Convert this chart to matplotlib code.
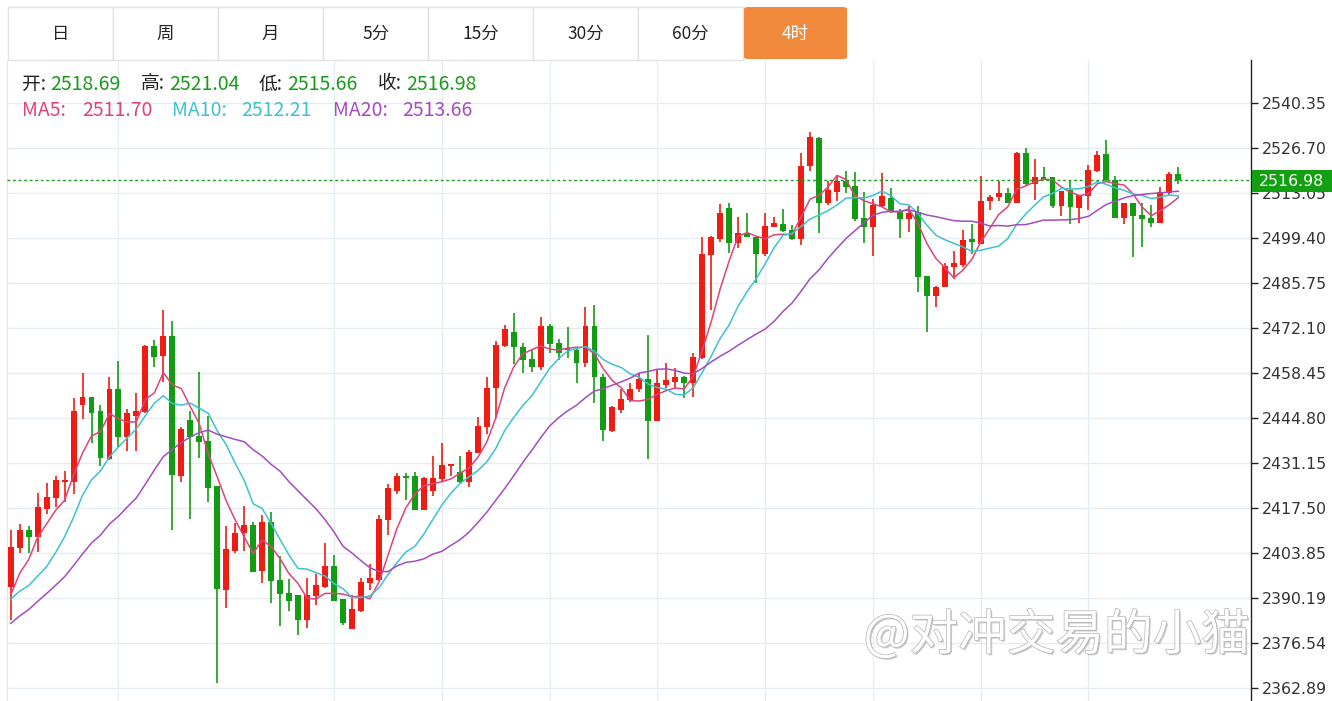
import matplotlib
matplotlib.use("Agg")
import matplotlib.pyplot as plt
import matplotlib.patheffects as pe
from matplotlib.patches import Rectangle, FancyBboxPatch
import numpy as np
import pandas as pd

# ---- data ----
opens = [2393.6, 2405.3, 2410.8, 2408.6, 2417.3, 2420.5, 2425.5, 2425.5, 2448.7, 2451.3,
         2446.9, 2432.3, 2453.5, 2439.1, 2445.4, 2446.7, 2466.6, 2463.6, 2469.7, 2427.2,
         2444.2, 2439.3, 2437.9, 2424.2, 2392.6, 2404.5, 2410.0, 2412.3, 2398.5, 2413.3,
         2395.7, 2391.8, 2391.0, 2383.5, 2390.8, 2393.6, 2399.9, 2389.8, 2380.7, 2386.4,
         2394.8, 2395.7, 2413.9, 2422.7, 2427.3, 2427.3, 2416.9, 2422.7, 2426.2, 2430.2,
         2428.5, 2425.5, 2434.3, 2442.2, 2453.8, 2466.6, 2471.0, 2466.2, 2462.6, 2460.4,
         2472.7, 2467.5, 2465.9, 2465.4, 2461.6, 2472.6, 2457.1, 2441.0, 2447.2, 2450.3,
         2453.5, 2456.5, 2444.0, 2454.8, 2455.8, 2457.1, 2455.3, 2462.9, 2494.2, 2499.0,
         2508.4, 2497.8, 2500.8, 2499.8, 2494.5, 2502.8, 2503.6, 2501.8, 2499.2, 2521.2,
         2529.6, 2510.1, 2513.4, 2516.7, 2515.2, 2505.4, 2502.7, 2509.1, 2511.4, 2507.4,
         2505.1, 2507.4, 2487.9, 2481.8, 2484.4, 2490.5, 2491.2, 2499.0, 2497.6, 2510.7,
         2511.7, 2513.1, 2510.1, 2525.1, 2515.8, 2518.0, 2517.8, 2509.1, 2514.0, 2508.4,
         2512.1, 2519.8, 2524.9, 2517.0, 2505.4, 2510.1, 2506.4, 2505.4, 2504.0, 2513.0,
         2518.69]
highs = [2410.8, 2412.6, 2412.0, 2422.0, 2425.2, 2427.3, 2428.8, 2450.8, 2458.4, 2451.3,
         2448.7, 2457.1, 2462.1, 2447.4, 2452.3, 2466.9, 2468.5, 2477.6, 2474.2, 2442.2,
         2446.9, 2458.8, 2445.4, 2424.2, 2412.0, 2413.0, 2418.2, 2413.3, 2415.4, 2416.4,
         2402.9, 2395.9, 2391.0, 2396.2, 2397.5, 2407.0, 2403.2, 2389.8, 2391.1, 2396.2,
         2400.5, 2415.4, 2424.8, 2428.0, 2428.0, 2428.5, 2426.9, 2433.3, 2437.1, 2430.8,
         2433.3, 2435.1, 2445.0, 2457.3, 2468.3, 2473.0, 2476.7, 2467.6, 2465.4, 2475.3,
         2473.2, 2468.7, 2472.5, 2465.9, 2478.6, 2479.1, 2458.2, 2448.4, 2453.5, 2455.3,
         2458.5, 2470.0, 2459.4, 2461.4, 2459.9, 2457.5, 2464.4, 2499.8, 2500.0, 2509.7,
         2509.9, 2505.7, 2507.1, 2499.8, 2507.1, 2505.7, 2508.1, 2503.3, 2525.1, 2531.6,
         2530.1, 2516.7, 2518.5, 2519.8, 2519.5, 2513.4, 2511.1, 2519.0, 2514.5, 2508.1,
         2509.1, 2509.1, 2487.9, 2484.8, 2491.9, 2495.6, 2501.8, 2503.6, 2518.2, 2512.4,
         2516.8, 2514.5, 2525.6, 2526.6, 2523.3, 2520.8, 2517.8, 2513.8, 2517.0, 2512.4,
         2521.5, 2525.9, 2529.1, 2518.2, 2510.1, 2510.1, 2510.1, 2509.4, 2515.0, 2519.5,
         2521.04]
lows = [2383.5, 2403.8, 2403.9, 2404.2, 2415.7, 2417.9, 2419.4, 2421.7, 2444.4, 2437.1,
        2430.3, 2432.1, 2436.1, 2434.9, 2434.9, 2446.4, 2460.2, 2455.8, 2410.8, 2425.5,
        2414.1, 2432.6, 2419.2, 2364.3, 2387.1, 2403.8, 2404.5, 2398.2, 2394.8, 2388.8,
        2381.7, 2386.4, 2379.0, 2381.0, 2388.1, 2393.1, 2389.4, 2382.0, 2380.7, 2386.0,
        2392.6, 2395.5, 2409.3, 2421.7, 2419.9, 2416.9, 2416.9, 2421.1, 2425.5, 2427.2,
        2425.0, 2424.0, 2434.1, 2439.9, 2444.7, 2466.4, 2461.2, 2458.5, 2458.8, 2459.3,
        2464.4, 2462.4, 2462.9, 2455.5, 2460.4, 2449.4, 2437.9, 2440.6, 2446.4, 2449.7,
        2452.8, 2432.3, 2444.0, 2453.8, 2453.8, 2450.8, 2451.3, 2462.6, 2477.6, 2498.3,
        2494.9, 2496.3, 2499.6, 2485.7, 2493.9, 2502.6, 2501.3, 2498.8, 2497.3, 2519.8,
        2500.8, 2509.4, 2510.7, 2513.1, 2504.6, 2498.0, 2493.9, 2508.9, 2506.9, 2499.3,
        2501.3, 2483.1, 2471.0, 2478.6, 2484.4, 2486.9, 2490.7, 2494.4, 2497.6, 2507.9,
        2510.7, 2509.9, 2509.9, 2515.5, 2510.9, 2517.2, 2508.4, 2506.1, 2503.6, 2504.0,
        2507.9, 2519.5, 2516.5, 2505.4, 2503.6, 2493.7, 2496.6, 2502.8, 2503.9, 2512.4,
        2515.66]
closes = [2405.6, 2410.8, 2408.8, 2417.7, 2420.7, 2426.0, 2426.0, 2447.0, 2451.3, 2446.4,
          2432.7, 2453.5, 2438.9, 2446.2, 2447.0, 2466.6, 2463.4, 2469.7, 2427.5, 2441.4,
          2439.1, 2437.6, 2423.7, 2392.8, 2405.1, 2410.0, 2412.3, 2398.2, 2413.3, 2395.4,
          2391.4, 2389.4, 2383.5, 2391.1, 2394.1, 2399.9, 2389.4, 2382.5, 2386.8, 2395.1,
          2396.2, 2414.1, 2423.5, 2427.3, 2426.7, 2416.9, 2426.7, 2426.6, 2430.5, 2430.8,
          2425.5, 2434.6, 2442.4, 2454.0, 2466.9, 2471.7, 2466.2, 2462.4, 2460.2, 2472.7,
          2467.2, 2464.4, 2465.4, 2461.6, 2472.7, 2457.2, 2441.2, 2448.0, 2450.5, 2453.5,
          2456.5, 2444.0, 2455.3, 2456.3, 2457.3, 2455.3, 2463.2, 2494.5, 2499.8, 2507.1,
          2497.8, 2500.8, 2499.6, 2494.5, 2503.0, 2504.0, 2501.6, 2499.0, 2521.2, 2529.9,
          2510.1, 2514.0, 2516.7, 2515.0, 2505.1, 2502.7, 2509.4, 2512.1, 2507.4, 2505.1,
          2507.1, 2487.7, 2481.8, 2484.6, 2490.9, 2491.7, 2498.8, 2498.3, 2510.7, 2511.7,
          2513.1, 2510.1, 2525.1, 2515.8, 2518.0, 2517.2, 2509.1, 2513.8, 2508.7, 2512.4,
          2520.0, 2524.6, 2517.0, 2505.4, 2510.1, 2506.1, 2505.1, 2504.0, 2513.4, 2518.8,
          2516.98]
# closes before the visible window (estimated from where the MA lines start)
prior_closes = [2366, 2370, 2368, 2373, 2376, 2374, 2379, 2381, 2380, 2385,
                2386, 2392, 2389, 2392, 2383.4, 2378, 2388, 2384, 2400]

price_ticks = [2362.89, 2376.54, 2390.19, 2403.85, 2417.50, 2431.15, 2444.80,
               2458.45, 2472.10, 2485.75, 2499.40, 2513.05, 2526.70, 2540.35]
grid_candles = [12, 36, 48, 60, 72, 84, 96, 108, 120]
periods = ["日", "周", "月", "5分", "15分", "30分", "60分", "4时"]
active_period = "4时"
ohlc_labels = ["开", "高", "低", "收"]
ma_periods = [5, 10, 20]
ma_header = [2511.70, 2512.21, 2513.66]

RED = "#ee1c12"
GREEN = "#139c13"
TXT_GREEN = "#1a9a1a"
MA_COLORS = ["#e0427a", "#3dc1d3", "#a34dbf"]
GRID = "#e6edf2"
CJK = ["Noto Sans CJK SC", "DejaVu Sans"]

W, H = 1332, 701
fig = plt.figure(figsize=(W / 100, H / 100), dpi=100)


def fx(px):
    return px / W


def fy(py):
    return 1 - py / H


# main price axes (pixel box 7..1251 x 60..701)
ax = fig.add_axes([fx(7), fy(701), fx(1251) - fx(7), fy(60) - fy(701)])
x = np.arange(len(closes))
o = np.array(opens)
c = np.array(closes)
up = c >= o
colors = np.where(up, RED, GREEN)

ax.vlines(x, lows, highs, colors=colors, linewidth=1.2, zorder=3)
body_h = np.maximum(np.abs(c - o), 0.35)
ax.bar(x, body_h, bottom=np.minimum(o, c), width=0.66, color=colors,
       linewidth=0, zorder=4)

# moving averages
all_closes = pd.Series(prior_closes + closes)
for n, col in zip(ma_periods, MA_COLORS):
    ma = all_closes.rolling(n).mean().iloc[len(prior_closes):].to_numpy()
    ax.plot(x, ma, color=col, linewidth=1.1, zorder=5)

ax.axhline(closes[-1], color=TXT_GREEN, linewidth=1, linestyle=(0, (2, 2)), zorder=6)

ax.set_xlim(-0.41, 138.1)
ax.set_ylim(2358.96, 2553.39)
ax.set_yticks(price_ticks)
ax.set_yticklabels([f"{t:.2f}" for t in price_ticks])
ax.yaxis.tick_right()
ax.tick_params(axis="y", length=5, width=1, color="#222222", pad=3,
               labelsize=11.3, labelcolor="#333333")
ax.set_xticks(grid_candles)
ax.tick_params(axis="x", length=0, labelbottom=False)
ax.grid(True, color=GRID, linewidth=1, zorder=0)
ax.set_axisbelow(True)
for s in ["top", "bottom"]:
    ax.spines[s].set_visible(False)
ax.spines["left"].set_color("#e2e6ea")
ax.spines["right"].set_color("#222222")
ax.spines["right"].set_linewidth(1)

# last price tag on the axis
fig.add_artist(Rectangle((fx(1252), fy(192)), fx(80), 22 / H, transform=fig.transFigure,
                         facecolor="#12a012", edgecolor="none", zorder=10))
fig.text(fx(1292), fy(181), f"{closes[-1]:.2f}", color="white", fontsize=11.3,
         ha="center", va="center", zorder=11)

# period buttons
bw = 105
for i, label in enumerate(periods):
    x0 = 8 + i * bw
    if label == active_period:
        fig.add_artist(FancyBboxPatch((fx(x0 + 1), fy(59)), fx(bw - 2), 52 / H,
                                      boxstyle="round,pad=0,rounding_size=0.003",
                                      transform=fig.transFigure, facecolor="#f28a3d",
                                      edgecolor="none", zorder=2))
        tc = "white"
    else:
        fig.add_artist(Rectangle((fx(x0), fy(60)), fx(bw), 53 / H, transform=fig.transFigure,
                                 facecolor="white", edgecolor="#e3e3e3", linewidth=1, zorder=1))
        tc = "#222222"
    fig.text(fx(x0 + bw / 2), fy(34), label, color=tc, fontsize=12.5, family=CJK,
             ha="center", va="center", zorder=3)

# OHLC header
last_vals = [opens[-1], highs[-1], lows[-1], closes[-1]]
label_x = [22, 141, 259, 378]
for lab, val, lx in zip(ohlc_labels, last_vals, label_x):
    fig.text(fx(lx), fy(84), lab + ":", color="#222222", fontsize=13.5, family=CJK,
             ha="left", va="center")
    fig.text(fx(lx + 28), fy(84), f"{val:.2f}", color=TXT_GREEN, fontsize=14, family=CJK,
             ha="left", va="center")

ma_x = [22, 172, 333]
ma_val_dx = [60, 69, 69]
for n, val, col, mx, dx in zip(ma_periods, ma_header, MA_COLORS, ma_x, ma_val_dx):
    fig.text(fx(mx), fy(111), f"MA{n}:", color=col, fontsize=14, family=CJK,
             ha="left", va="center")
    fig.text(fx(mx + dx), fy(111), f"{val:.2f}", color=col, fontsize=14, family=CJK,
             ha="left", va="center")

# watermark
fig.text(fx(1250), fy(636), "@对冲交易的小猫", fontsize=35, family=CJK, color="white",
         ha="right", va="center", zorder=8,
         path_effects=[pe.SimplePatchShadow(offset=(1.2, -1.2), shadow_rgbFace="#8a8a8a", alpha=0.45),
                       pe.Stroke(linewidth=1.0, foreground="#b4b4b4"), pe.Normal()])

fig.savefig("out.png", dpi=100)
